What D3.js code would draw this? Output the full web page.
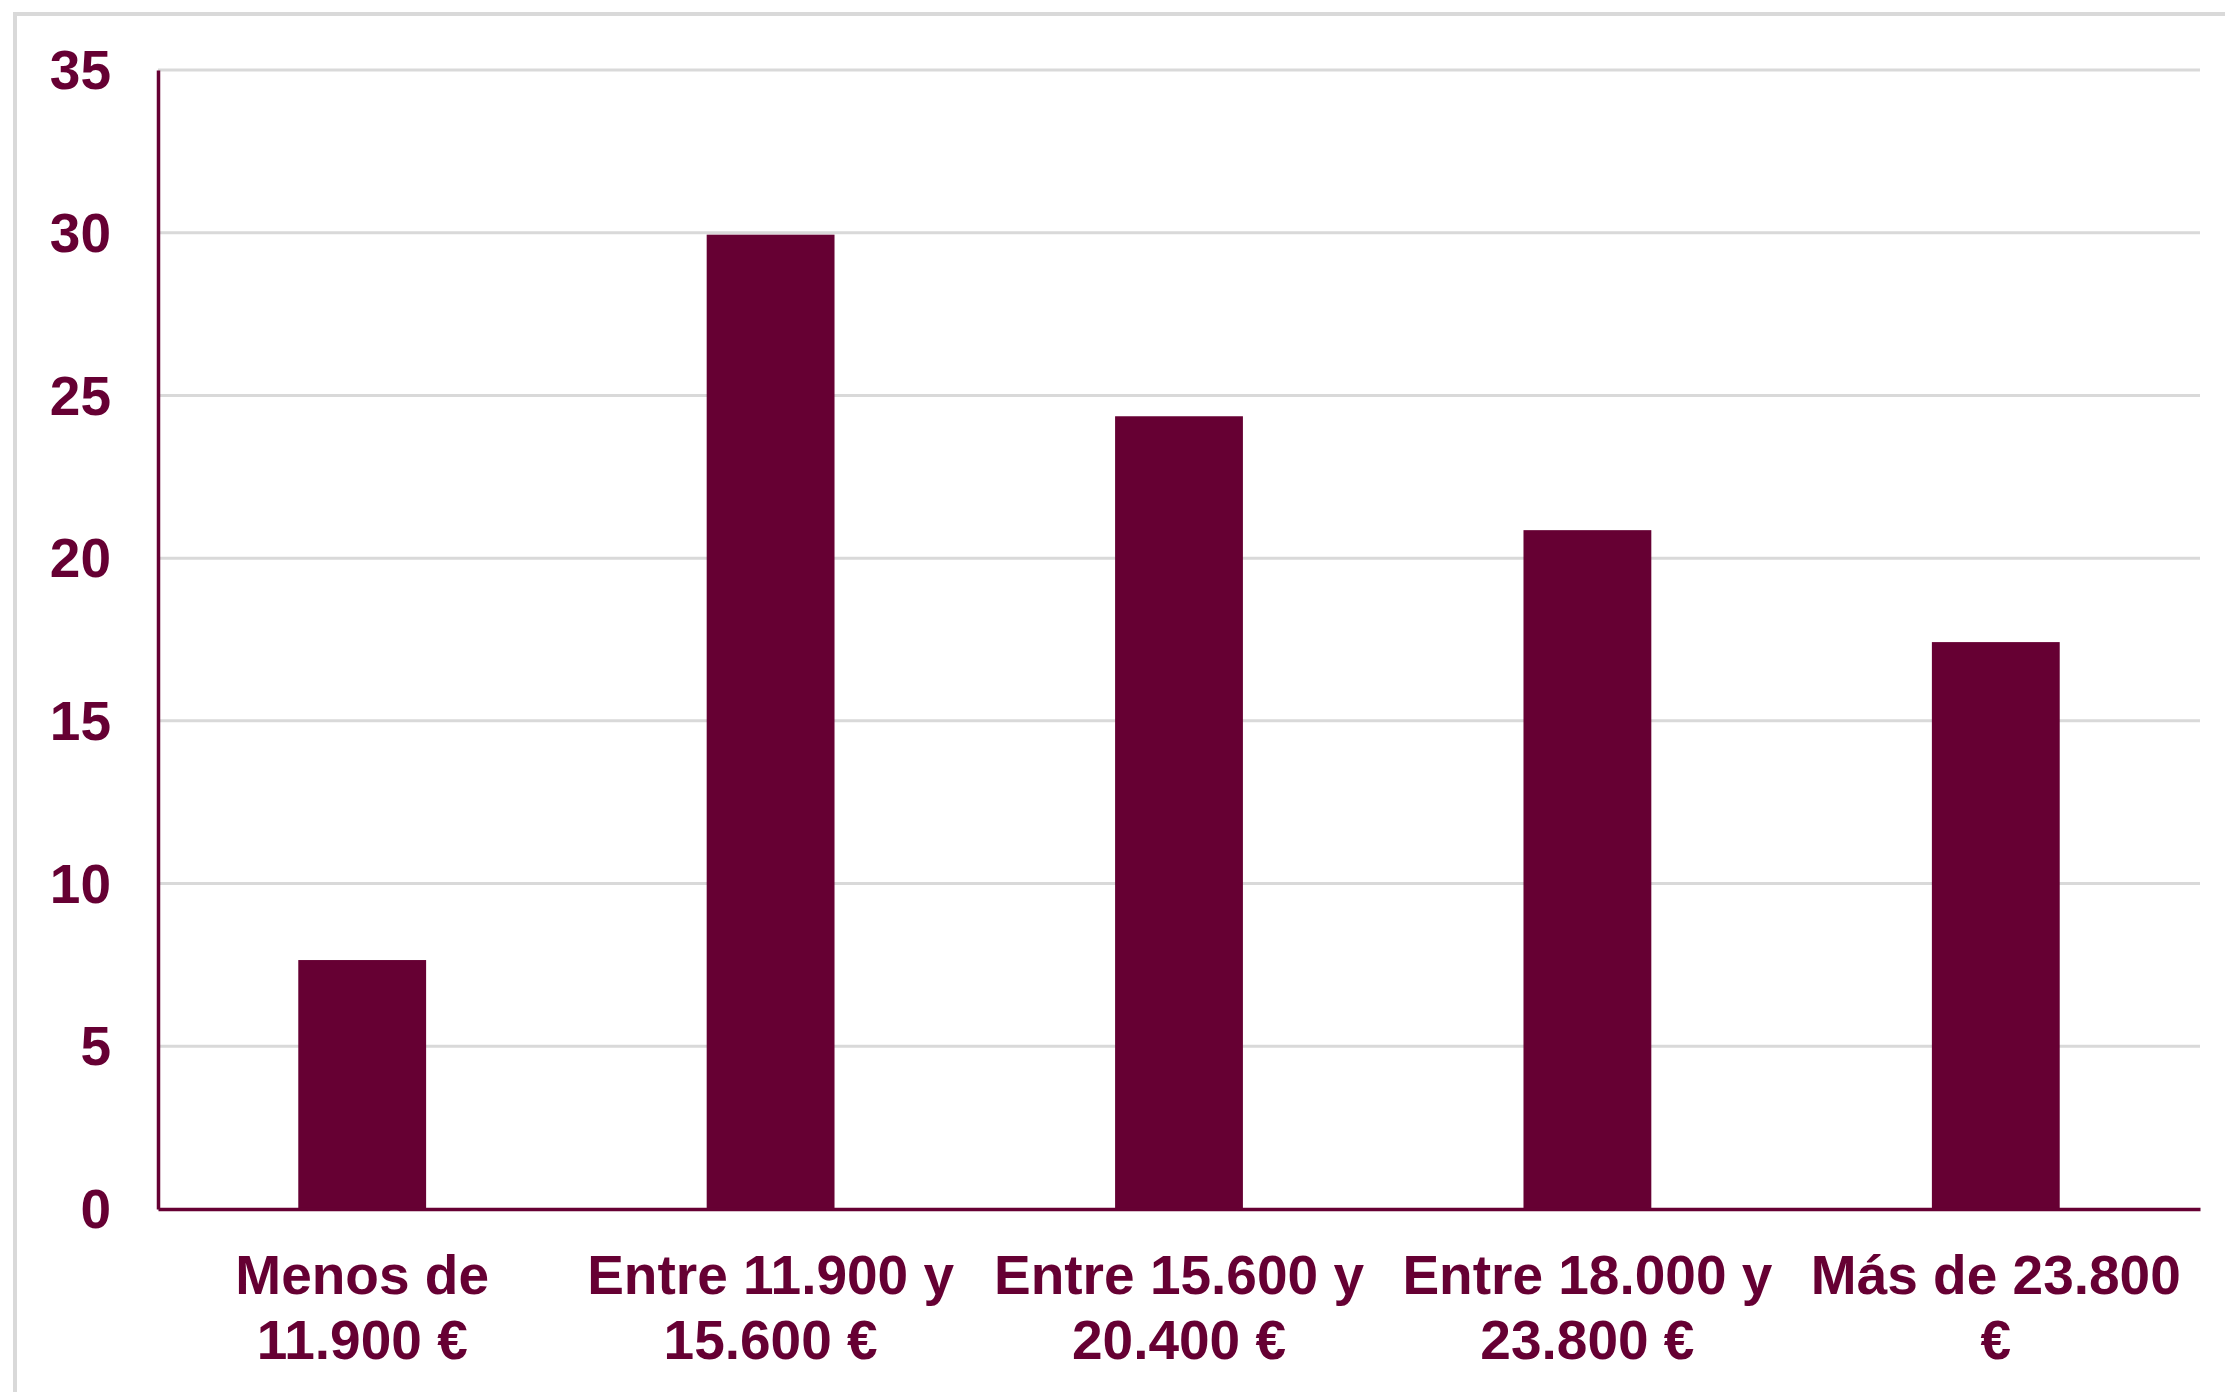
<!DOCTYPE html>
<html>
<head>
<meta charset="utf-8">
<script src="https://cdn.jsdelivr.net/npm/d3@7"></script>
<style>
  html, body { margin: 0; padding: 0; background: #ffffff; }
  svg { display: block; }
</style>
</head>
<body>
<svg id="chart" width="2225" height="1392"></svg>
<script>
const categories = [
  "Menos de 11.900 €",
  "Entre 11.900 y 15.600 €",
  "Entre 15.600 y 20.400 €",
  "Entre 18.000 y 23.800 €",
  "Más de 23.800 €"
];
const categoryLines = [
  ["Menos de", "11.900 €"],
  ["Entre 11.900 y", "15.600 €"],
  ["Entre 15.600 y", "20.400 €"],
  ["Entre 18.000 y", "23.800 €"],
  ["Más de 23.800", "€"]
];
const values = [7.65, 29.94, 24.36, 20.86, 17.42];
const yTicks = [0, 5, 10, 15, 20, 25, 30, 35];

const W = 2225, H = 1392;
const margin = { left: 158, right: 25, top: 70, bottom: 183 };
const color = "#660033";
const font = "'Liberation Sans', Arial, sans-serif";

const svg = d3.select("#chart");

// outer frame
svg.append("rect")
  .attr("x", 15).attr("y", 14)
  .attr("width", W).attr("height", H)
  .attr("fill", "none").attr("stroke", "#d9d9d9").attr("stroke-width", 4);

const x = d3.scaleBand().domain(categories)
  .range([margin.left, W - margin.right]).padding(0);
const y = d3.scaleLinear().domain([0, 35])
  .range([H - margin.bottom, margin.top]);

// gridlines
svg.append("g").selectAll("line").data(yTicks.filter(d => d > 0)).join("line")
  .attr("x1", margin.left).attr("x2", W - margin.right)
  .attr("y1", d => y(d)).attr("y2", d => y(d))
  .attr("stroke", "#d9d9d9").attr("stroke-width", 3);

// bars
const barW = x.bandwidth() * 0.313;
svg.append("g").selectAll("rect").data(values).join("rect")
  .attr("x", (d, i) => x(categories[i]) + x.bandwidth() / 2 - barW / 2)
  .attr("width", barW)
  .attr("y", d => y(d))
  .attr("height", d => y(0) - y(d))
  .attr("fill", color);

// y axis
const yAxis = d3.axisLeft(y).tickValues(yTicks).tickSize(0).tickPadding(47);
const gy = svg.append("g").attr("transform", `translate(${margin.left},0)`).call(yAxis);
gy.select(".domain").attr("stroke", color).attr("stroke-width", 3.5);
gy.selectAll("text")
  .attr("fill", color)
  .style("font-family", font).style("font-size", "55px").style("font-weight", "bold")
  .attr("dy", "0.34em");

// x axis
const xAxis = d3.axisBottom(x).tickSize(0).tickFormat(() => "");
const gx = svg.append("g").attr("transform", `translate(0,${y(0)})`).call(xAxis);
gx.select(".domain").attr("stroke", color).attr("stroke-width", 3.5);

// x labels (two lines)
const lbl = svg.append("g").selectAll("text").data(categories).join("text")
  .attr("x", d => x(d) + x.bandwidth() / 2)
  .attr("y", 1294)
  .attr("text-anchor", "middle")
  .attr("fill", color)
  .style("font-family", font).style("font-size", "55px").style("font-weight", "bold");
lbl.each(function(d, i) {
  const t = d3.select(this);
  categoryLines[i].forEach((line, j) => {
    t.append("tspan")
      .attr("x", x(d) + x.bandwidth() / 2)
      .attr("dy", j === 0 ? 0 : 65)
      .text(line);
  });
});
</script>
</body>
</html>
